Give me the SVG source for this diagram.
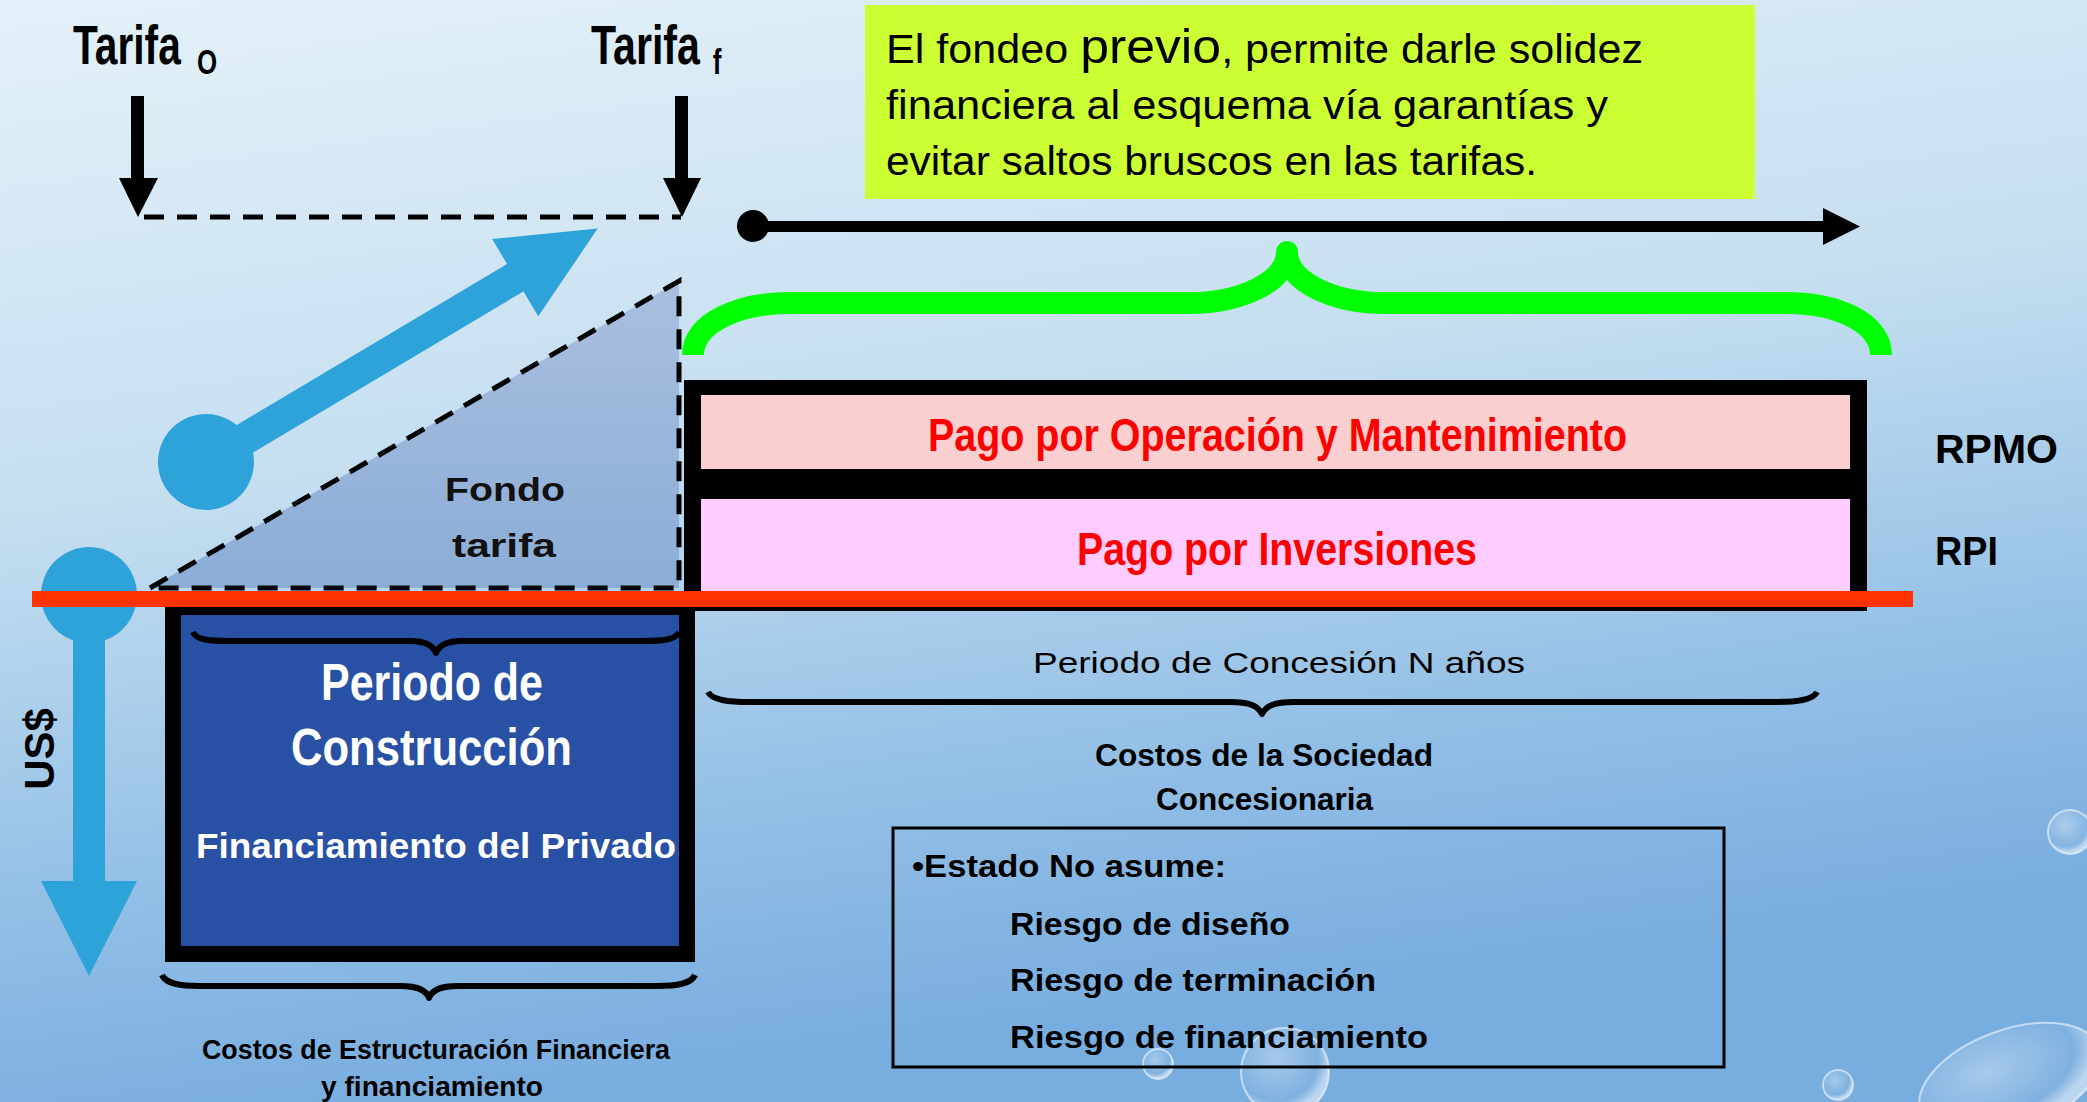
<svg xmlns="http://www.w3.org/2000/svg" width="2087" height="1102" viewBox="0 0 2087 1102">
<defs>
<linearGradient id="bg" x1="0" y1="0" x2="0.25" y2="1">
<stop offset="0" stop-color="#e4f1f8"/>
<stop offset="0.45" stop-color="#c4def0"/>
<stop offset="0.8" stop-color="#8fbde5"/>
<stop offset="1" stop-color="#78addf"/>
</linearGradient>
<linearGradient id="tri" x1="0" y1="0" x2="0" y2="1">
<stop offset="0" stop-color="#aabfe0"/>
<stop offset="1" stop-color="#8badd6"/>
</linearGradient>
<radialGradient id="bub" cx="0.4" cy="0.35" r="0.6">
<stop offset="0" stop-color="#ffffff" stop-opacity="0.35"/>
<stop offset="0.8" stop-color="#ffffff" stop-opacity="0.05"/>
<stop offset="1" stop-color="#ffffff" stop-opacity="0.5"/>
</radialGradient>
<style>
.nb{font-family:"Liberation Sans",Arial,sans-serif;font-weight:bold}
.g{font-family:"Liberation Sans",Arial,sans-serif}
.gb{font-family:"Liberation Sans",Arial,sans-serif;font-weight:bold}
.brace{fill:none;stroke:#000;stroke-width:6;stroke-linejoin:round}
.dash{fill:none;stroke:#000;stroke-width:5;stroke-dasharray:20 13}
.blue{fill:#2ea3da}
.bubble{fill:url(#bub);stroke:#ffffff;stroke-opacity:0.55;stroke-width:2}
</style>
</defs>
<rect width="2087" height="1102" fill="url(#bg)"/>
<g id="bubbles">
<circle class="bubble" cx="2070" cy="832" r="22"/>
<circle class="bubble" cx="1838" cy="1085" r="15"/>
<circle class="bubble" cx="1285" cy="1072" r="44"/>
<circle class="bubble" cx="1158" cy="1064" r="15"/>
<ellipse class="bubble" cx="2010" cy="1080" rx="95" ry="50" transform="rotate(-20 2010 1080)"/>
</g>

<g id="fondo-tarifa">
<polygon points="150,588 679,281 679,588" fill="url(#tri)"/>
<polyline class="dash" points="150,588 679,281 679,588 150,588"/>
<text class="gb" x="445" y="501" font-size="34" fill="#111" textLength="120" lengthAdjust="spacingAndGlyphs">Fondo</text>
<text class="gb" x="452" y="557" font-size="34" fill="#111" textLength="104" lengthAdjust="spacingAndGlyphs">tarifa</text>
</g>

<g id="tarifa-o">
<text class="nb" font-size="55" transform="translate(73 64) scale(0.74 1)">Tarifa<tspan dx="22" dy="10" font-size="35">O</tspan></text>
</g>
<g id="tarifa-f">
<text class="nb" font-size="55" transform="translate(591 64) scale(0.748 1)">Tarifa<tspan dx="17" dy="10" font-size="35">f</tspan></text>
</g>

<g id="nota-fondeo">
<rect x="865" y="5" width="890" height="194" fill="#ccff33"/>
<text class="g" x="886" y="63" font-size="40" textLength="757" lengthAdjust="spacingAndGlyphs">El fondeo <tspan font-size="48">previo</tspan>, permite darle solidez</text>
<text class="g" x="886" y="119" font-size="40" textLength="722" lengthAdjust="spacingAndGlyphs">financiera al esquema vía garantías y</text>
<text class="g" x="886" y="175" font-size="40" textLength="651" lengthAdjust="spacingAndGlyphs">evitar saltos bruscos en las tarifas.</text>
</g>

<g id="pagos">
<rect x="684" y="380" width="1183" height="231" fill="#000"/>
<rect x="701" y="395" width="1149" height="74" fill="#f9cfcf"/>
<rect x="701" y="499" width="1149" height="93" fill="#ffccff"/>
<text class="nb" x="928" y="451" font-size="46" fill="#ff0000" textLength="699" lengthAdjust="spacingAndGlyphs">Pago por Operación y Mantenimiento</text>
<text class="nb" x="1077" y="565" font-size="46" fill="#ff0000" textLength="400" lengthAdjust="spacingAndGlyphs">Pago por Inversiones</text>
</g>
<g id="rpmo"><text class="gb" x="1935" y="463" font-size="40" textLength="123" lengthAdjust="spacingAndGlyphs">RPMO</text></g>
<g id="rpi"><text class="gb" x="1935" y="565" font-size="40" textLength="63" lengthAdjust="spacingAndGlyphs">RPI</text></g>

<g id="construccion">
<rect x="165" y="598" width="530" height="364" fill="#000"/>
<rect x="181" y="615" width="498" height="331" fill="#2850a4"/>
<path class="brace" d="M193 632 C196 640 210 641 230 641 L410 641 C425 641 433 645 436 653 C439 645 447 641 462 641 L642 641 C662 641 676 640 679 632"/>
<text class="nb" x="321" y="700" font-size="52" fill="#fff" textLength="222" lengthAdjust="spacingAndGlyphs">Periodo de</text>
<text class="nb" x="291" y="765" font-size="52" fill="#fff" textLength="281" lengthAdjust="spacingAndGlyphs">Construcción</text>
<text class="gb" x="196" y="858" font-size="35" fill="#fff" textLength="480" lengthAdjust="spacingAndGlyphs">Financiamiento del Privado</text>
</g>

<g id="connectors">
<rect x="131" y="96" width="13" height="84" fill="#000"/>
<polygon points="119,178 158,178 138,217" fill="#000"/>
<rect x="675" y="96" width="13" height="84" fill="#000"/>
<polygon points="663,178 701,178 682,217" fill="#000"/>
<line class="dash" x1="144" y1="217" x2="681" y2="217"/>
<circle cx="753" cy="226" r="16" fill="#000"/>
<rect x="753" y="221" width="1072" height="11" fill="#000"/>
<polygon points="1823,208 1860,226.5 1823,245" fill="#000"/>
<path d="M693 355 C693 322 740 303 790 303 L1190 303 C1240 303 1287 282 1287 252 C1287 282 1334 303 1384 303 L1786 303 C1836 303 1881 322 1881 355" fill="none" stroke="#00ff00" stroke-width="22" stroke-linejoin="round"/>
<g transform="translate(206 462) rotate(-30.8)">
<circle cx="0" cy="0" r="48" class="blue"/>
<rect x="0" y="-16" width="362" height="32" class="blue"/>
<polygon points="360,-45 456,0 360,45" class="blue"/>
</g>
<circle cx="89" cy="595" r="48" class="blue"/>
<rect x="73" y="595" width="32" height="288" class="blue"/>
<polygon points="41,881 137,881 89,976" class="blue"/>
<rect x="32" y="591" width="1881" height="16" fill="#ff3300"/>
<path class="brace" d="M162 975 C166 984 180 986 200 986 L400 986 C418 986 426 990 429 998 C432 990 440 986 458 986 L657 986 C677 986 691 984 695 975"/>
<path class="brace" d="M708 692 C712 700 728 702 750 702 L1230 702 C1250 702 1258 706 1262 714 C1266 706 1274 702 1294 702 L1775 702 C1797 702 1813 700 1817 692"/>
</g>

<g id="us-label"><text class="gb" transform="translate(54 749) rotate(-90)" font-size="42" text-anchor="middle">US$</text></g>

<g id="costos-estructuracion">
<text class="gb" x="202" y="1059" font-size="27" textLength="468" lengthAdjust="spacingAndGlyphs">Costos de Estructuración Financiera</text>
<text class="gb" x="321" y="1096" font-size="27" textLength="222" lengthAdjust="spacingAndGlyphs">y financiamiento</text>
</g>

<g id="periodo-concesion">
<text class="g" x="1033" y="673" font-size="30" textLength="492" lengthAdjust="spacingAndGlyphs">Periodo de Concesión N años</text>
</g>

<g id="costos-sociedad">
<text class="gb" x="1095" y="766" font-size="31" textLength="338" lengthAdjust="spacingAndGlyphs">Costos de la Sociedad</text>
<text class="gb" x="1156" y="810" font-size="31" textLength="217" lengthAdjust="spacingAndGlyphs">Concesionaria</text>
</g>

<g id="riesgos">
<rect x="893" y="828" width="831" height="239" fill="none" stroke="#000" stroke-width="3"/>
<text class="gb" x="912" y="877" font-size="31" textLength="314" lengthAdjust="spacingAndGlyphs">•Estado No asume:</text>
<text class="gb" x="1010" y="935" font-size="31" textLength="280" lengthAdjust="spacingAndGlyphs">Riesgo de diseño</text>
<text class="gb" x="1010" y="991" font-size="31" textLength="366" lengthAdjust="spacingAndGlyphs">Riesgo de terminación</text>
<text class="gb" x="1010" y="1048" font-size="31" textLength="418" lengthAdjust="spacingAndGlyphs">Riesgo de financiamiento</text>
</g>
</svg>
